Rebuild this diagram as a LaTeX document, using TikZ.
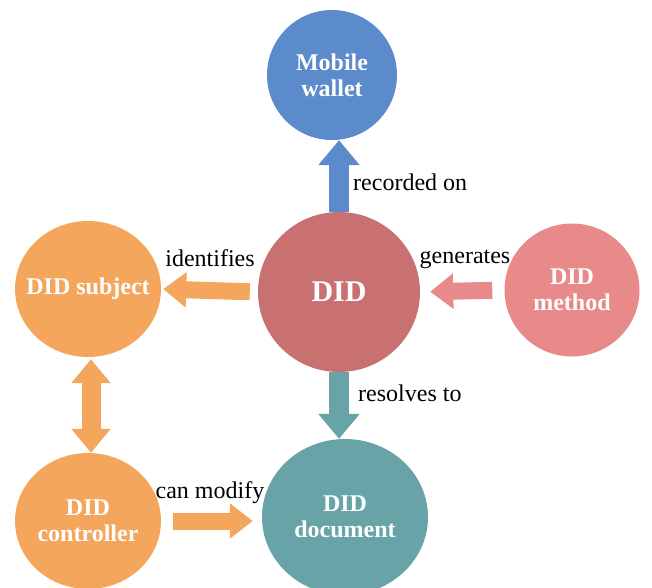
\documentclass[tikz,border=0pt]{standalone}
\usepackage{fontspec}
\setmainfont{Liberation Serif}
\usetikzlibrary{arrows.meta,shapes.geometric}
\definecolor{walletblue}{RGB}{91,139,203}
\definecolor{didred}{RGB}{201,113,113}
\definecolor{subjorange}{RGB}{244,166,93}
\definecolor{methodpink}{RGB}{232,137,138}
\definecolor{docteal}{RGB}{104,163,168}

\begin{document}
\begin{tikzpicture}
[
  x=1pt, y=-1pt,
  bubble/.style={ellipse,inner sep=-14pt,text=white,align=center,font=\bfseries\fontsize{24}{26}\selectfont},
  linktext/.style={inner sep=1pt,font=\fontsize{24}{26}\selectfont},
  blockarrow/.style={line width=20pt,-{Triangle[width=40pt,length=25pt]}},
  smallarrow/.style={line width=17pt,-{Triangle[width=34pt,length=23pt]}}
]
\useasboundingbox (0,0) rectangle (652,587);

\node (wallet) [bubble,fill=walletblue,minimum width=130pt,minimum height=130pt] at (332,75) {Mobile\\wallet};
\node (did) [bubble,fill=didred,minimum width=162pt,minimum height=160pt,font=\bfseries\fontsize{30}{32}\selectfont] at (339,292) {DID};
\node (subject) [bubble,fill=subjorange,minimum width=146pt,minimum height=136pt] at (88,289) {DID subject};
\node (method) [bubble,fill=methodpink,minimum width=135pt,minimum height=133pt] at (572,290) {DID\\method};
\node (controller) [bubble,fill=subjorange,minimum width=146pt,minimum height=136pt] at (88,521) {DID\\controller};
\node (document) [bubble,fill=docteal,minimum width=166pt,minimum height=156pt] at (345,517) {DID\\document};

\node (recorded) [linktext,anchor=west] at (352,182) {recorded on};
\node (identifies) [linktext] at (210,258) {identifies};
\node (generates) [linktext] at (465,259) {generates};
\node (resolves) [linktext,anchor=west] at (357,393) {resolves to};
\node (modify) [linktext] at (210,493) {can modify};

\draw [blockarrow,walletblue] (did.north) -- (did.north |- wallet.south);
\draw [smallarrow,subjorange,shorten <=8pt,shorten >=2pt] (did.west) -- (subject.east);
\draw [smallarrow,methodpink,shorten <=12pt,shorten >=10pt] (method.west) -- (did.east);
\draw [line width=19pt,subjorange,{Triangle[width=38pt,length=24pt]}-{Triangle[width=38pt,length=24pt]},shorten <=2pt] ([xshift=3pt]subject.south) -- ([xshift=3pt]controller.north);
\draw [smallarrow,subjorange,shorten <=12pt,shorten >=9pt] (controller.east) -- (controller.east -| document.west);
\draw [blockarrow,docteal] (did.south) -- (did.south |- document.north);

\end{tikzpicture}
\end{document}
